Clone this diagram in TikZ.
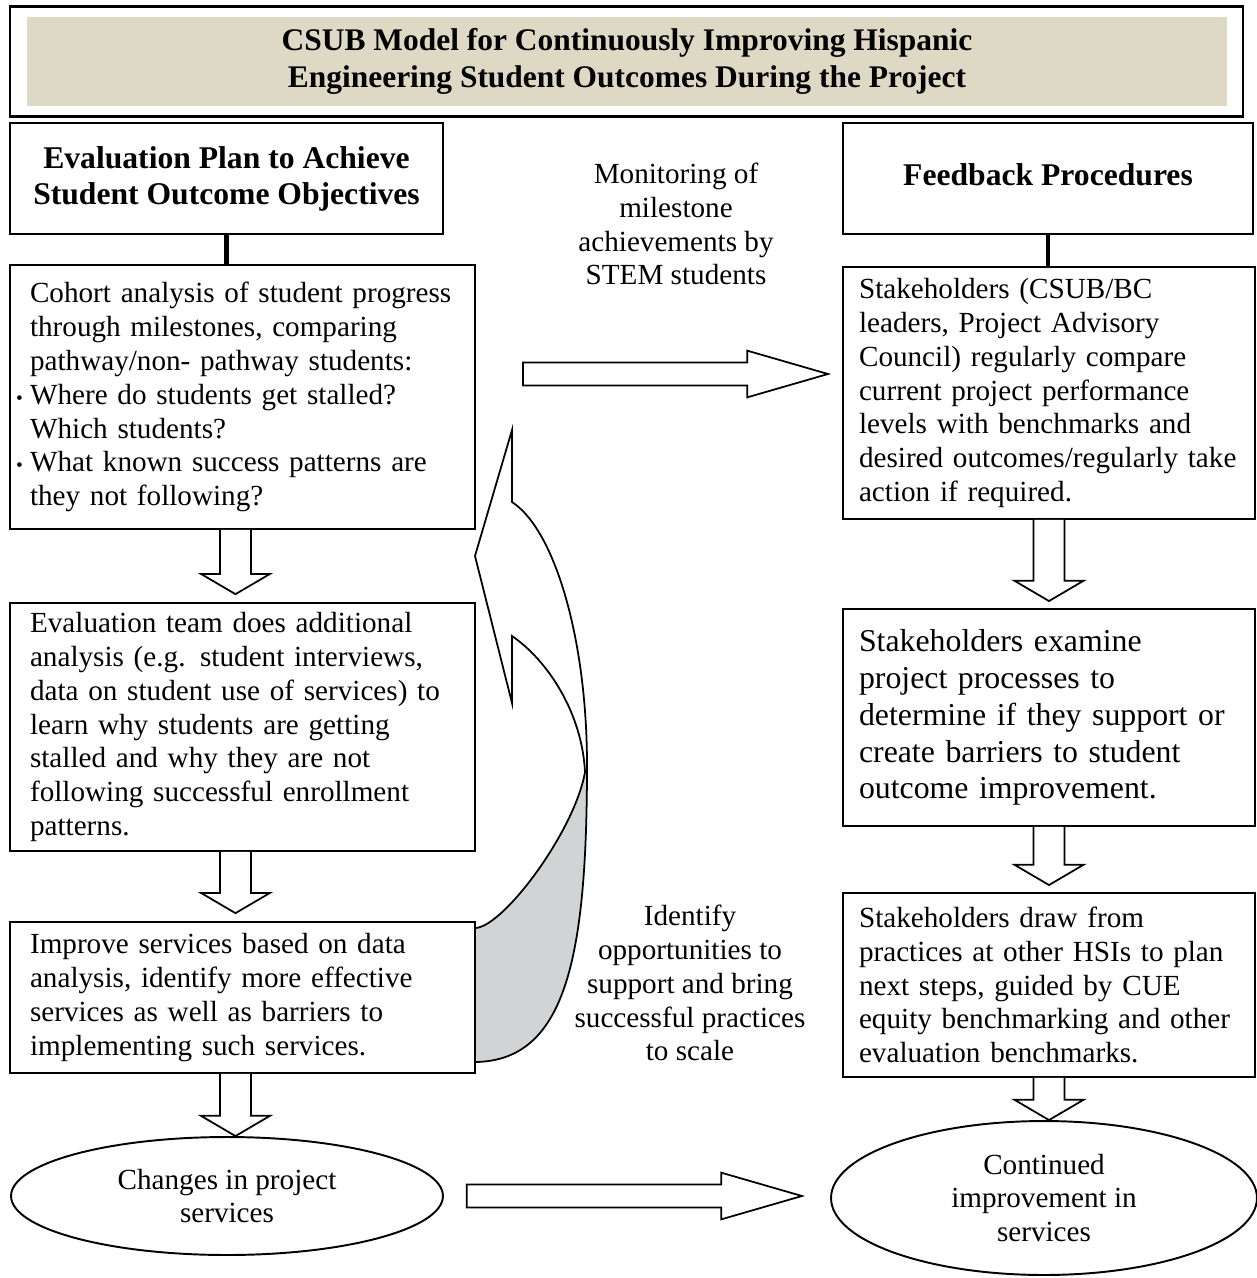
\documentclass[tikz,border=0pt]{standalone}
\usepackage{fontspec}
\setmainfont{Liberation Serif}
\usepackage{tikz}
\usetikzlibrary{positioning, shapes.geometric, calc}
\definecolor{titlefill}{RGB}{221,217,196}
\definecolor{ribbon}{RGB}{209,211,212}
\newcommand{\bodyfont}{\fontsize{16.6}{19.3}\selectfont}
\newcommand{\headfont}{\fontsize{18}{20.4}\selectfont\bfseries}
\newcommand{\itm}{\leavevmode\llap{{\fontsize{11}{11}\selectfont\textbullet}\hspace{4pt}}}

\begin{document}
\begin{tikzpicture}[
    x=0.02cm, y=-0.02cm,
    box/.style={draw=black, line width=1.1pt, minimum width=9.3cm,
                inner xsep=0.4cm, inner ysep=2pt, text width=8.5cm,
                align=left, font=\bodyfont},
    rbox/.style={box, minimum width=8.24cm, inner xsep=0.32cm, text width=7.6cm},
    head/.style={draw=black, line width=1.1pt, align=center, font=\headfont},
    oval/.style={draw=black, line width=1.1pt, ellipse, inner sep=0pt,
                 align=center, font=\bodyfont},
    note/.style={align=center, font=\bodyfont},
    link/.style={line width=2.4pt},
    blockdown/.style={draw=black, fill=white, line width=1pt, to path={
        let \p1=(\tikztostart), \p2=(\tikztotarget) in
        (\x1-8.8pt,\y1) -- (\x1-8.8pt,\y2+11.5pt) -- (\x1-19.6pt,\y2+11.5pt)
        -- (\x1,\y2) -- (\x1+19.6pt,\y2+11.5pt) -- (\x1+8.8pt,\y2+11.5pt)
        -- (\x1+8.8pt,\y1)}},
    blockright/.style={draw=black, fill=white, line width=1pt, to path={
        let \p1=(\tikztostart), \p2=(\tikztotarget) in
        (\x1,\y1+6.5pt) -- (\x2-46pt,\y1+6.5pt) -- (\x2-46pt,\y1+13.3pt)
        -- (\x2,\y1) -- (\x2-46pt,\y1-13.3pt) -- (\x2-46pt,\y1-6.5pt)
        -- (\x1,\y1-6.5pt) -- cycle}},
]
\useasboundingbox (0,0) rectangle (1257,1278);

% Title banner
\node[fill=titlefill, minimum width=24cm, minimum height=1.78cm, align=center,
      font=\fontsize{17.9}{21}\selectfont\bfseries] (title) at (627,61.5)
     {CSUB Model for Continuously Improving Hispanic\\
      Engineering Student Outcomes During the Project};
\draw[line width=1.4pt] ($(title.north west)+(-17,-10)$) rectangle ($(title.south east)+(16,10)$);

% Left column: evaluation plan
\node[head, minimum width=8.66cm, minimum height=2.22cm] (hl) at (226.5,178.5)
     {Evaluation Plan to Achieve\\Student Outcome Objectives};
\node[box, minimum height=5.28cm] (l1) at (242.5,397)
     {Cohort analysis of student progress\\
      through milestones, comparing\\
      pathway/non- pathway students:\\
      \itm Where do students get stalled?\\
      Which students?\\
      \itm What known success patterns are\\
      they not following?};
\node[box, minimum height=4.96cm] (l2) at (242.5,727)
     {Evaluation team does additional\\
      analysis (e.g. student interviews,\\
      data on student use of services) to\\
      learn why students are getting\\
      stalled and why they are not\\
      following successful enrollment\\
      patterns.};
\node[box, minimum height=3.02cm] (l3) at (242.5,997.5)
     {Improve services based on data\\
      analysis, identify more effective\\
      services as well as barriers to\\
      implementing such services.};
\node[oval, minimum width=8.64cm, minimum height=2.36cm] (el) at (227,1196)
     {Changes in project\\services};

% Right column: feedback procedures
\node[head, minimum width=8.2cm, minimum height=2.22cm] (hr) at (1048,178.5)
     {\raisebox{4pt}{Feedback Procedures}};
\node[rbox, minimum height=5.04cm] (r1) at (1049,393)
     {Stakeholders (CSUB/BC\\
      leaders, Project Advisory\\
      Council) regularly compare\\
      current project performance\\
      levels with benchmarks and\\
      desired outcomes/regularly take\\
      action if required.};
\node[rbox, minimum height=4.34cm, font=\fontsize{18.1}{21}\selectfont] (r2) at (1049,717.5)
     {Stakeholders examine\\
      project processes to\\
      determine if they support or\\
      create barriers to student\\
      outcome improvement.};
\node[rbox, minimum height=3.68cm] (r3) at (1049,985)
     {Stakeholders draw from\\
      practices at other HSIs to plan\\
      next steps, guided by CUE\\
      equity benchmarking and other\\
      evaluation benchmarks.};
\node[oval, minimum width=8.52cm, minimum height=3.08cm] (er) at (1044,1198)
     {Continued\\improvement in\\services};

% Middle notes
\node[note] (mon) at (676,224)
     {Monitoring of\\milestone\\achievements by\\STEM students};
\node[note] (opp) at (690,983)
     {Identify\\opportunities to\\support and bring\\successful practices\\to scale};

% Header links
\draw[link] (hl.south) -- (hl.south |- l1.north);
\draw[link] (hr.south) -- (hr.south |- r1.north);

% Block arrows down the columns
\foreach \a/\b in {l1/l2, l2/l3} {
    \draw[blockdown] ([xshift=-4pt]\a.south) to ([yshift=4.5pt]\b.north);
}
\draw[blockdown] ([xshift=-4pt]l3.south) to (el.north);
\foreach \a/\b in {r1/r2, r2/r3} {
    \draw[blockdown] (\a.south) to ([yshift=4pt]\b.north);
}
\draw[blockdown] (r3.south) to (er.north);

% Block arrows across
\coordinate (mtail) at (523,374);
\coordinate (mtip) at (828,374);
\draw[blockright] (mtail) to (mtip);
\draw[blockright] ([xshift=13pt]el.east) to ([xshift=-16pt]er.west);

% Curved feedback ribbon
\fill[ribbon] (585,772) .. controls (575,830) and (505,925) .. (476,928)
    -- (476,1062) .. controls (565,1060) and (587,960) .. (587,765) -- cycle;
\draw[line width=1pt] (476,1062) .. controls (565,1060) and (587,960) .. (587,765)
    .. controls (587,640) and (555,530) .. (512,502) -- (512,430) -- (475,556)
    -- (512,703) -- (512,636) .. controls (547,660) and (582,712) .. (585,772)
    .. controls (575,830) and (505,925) .. (476,928);

\end{tikzpicture}
\end{document}
